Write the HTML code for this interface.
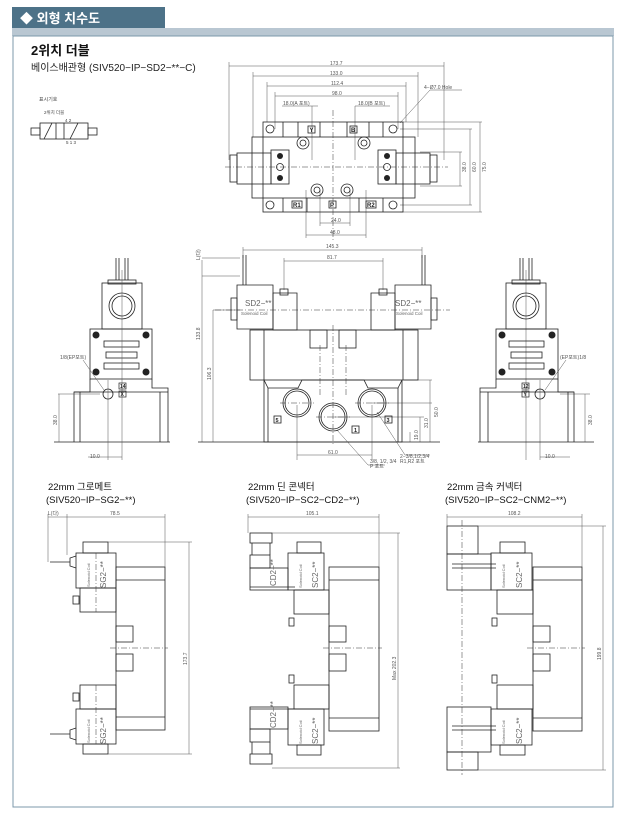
<!DOCTYPE html>
<html><head><meta charset="utf-8"><style>
html,body{margin:0;padding:0;background:#fff;}
svg{display:block;}
text{font-family:"Liberation Sans","Noto Sans CJK KR",sans-serif;}
.l{fill:none;stroke:#222;stroke-width:0.8}
.t{fill:none;stroke:#555;stroke-width:0.5}
.c{fill:none;stroke:#333;stroke-width:0.5;stroke-dasharray:6 2 1 2}
.d{font-size:5px;fill:#555}
</style></head><body>
<svg width="621" height="817" viewBox="0 0 621 817" xmlns="http://www.w3.org/2000/svg">
<rect width="621" height="817" fill="#fff"/>
<!-- header -->
<rect x="12" y="7" width="153" height="21" fill="#4d7288"/>
<text x="20" y="23" font-size="13" fill="#fff" font-weight="bold">◆ 외형 치수도</text>
<rect x="12" y="28" width="602" height="8" fill="#b9c7d2"/>
<rect x="13" y="36" width="600" height="771" fill="none" stroke="#7c98ab" stroke-width="1"/>
<text x="31" y="55" font-size="13" font-weight="bold" fill="#111">2위치 더블</text>
<text x="31" y="71" font-size="10" fill="#222">베이스배관형 (SIV520−IP−SD2−**−C)</text>
<!-- symbol -->
<text x="39" y="101" font-size="5" fill="#444">표시기호</text>
<text x="44" y="114" font-size="4.5" fill="#444">2위치 더블</text>
<text x="65" y="122" font-size="4.5" fill="#444">4   2</text>
<text x="66" y="144" font-size="4.5" fill="#444">5  1 3</text>
<g class="l"><rect x="40" y="123" width="48" height="16"/><line x1="64" y1="123" x2="64" y2="139"/>
<rect x="31" y="128" width="9" height="7"/><rect x="88" y="128" width="9" height="7"/>
<line x1="44" y1="139" x2="52" y2="123"/><line x1="70" y1="139" x2="78" y2="123"/><line x1="56" y1="123" x2="56" y2="139"/></g>

<!-- TOP VIEW -->
<g class="t">
<line x1="229" y1="66" x2="444" y2="66"/><line x1="229" y1="62" x2="229" y2="160"/><line x1="444" y1="62" x2="444" y2="160"/>
<line x1="253" y1="76" x2="418" y2="76"/><line x1="253" y1="72" x2="253" y2="137"/><line x1="418" y1="72" x2="418" y2="137"/>
<line x1="267" y1="86" x2="406" y2="86"/><line x1="267" y1="82" x2="267" y2="122"/><line x1="406" y1="82" x2="406" y2="122"/>
<line x1="275" y1="96" x2="398" y2="96"/><line x1="275" y1="92" x2="275" y2="129"/><line x1="398" y1="92" x2="398" y2="129"/>
<line x1="282" y1="106" x2="318" y2="106"/><line x1="355" y1="106" x2="390" y2="106"/>
<line x1="312" y1="106" x2="312" y2="160"/><line x1="355" y1="106" x2="355" y2="160"/>
<line x1="400" y1="123" x2="430" y2="90"/><line x1="430" y1="90" x2="462" y2="90"/>
<line x1="400" y1="122" x2="482" y2="122"/><line x1="400" y1="129" x2="472" y2="129"/><line x1="400" y1="205" x2="472" y2="205"/><line x1="400" y1="212" x2="482" y2="212"/>
<line x1="420" y1="152" x2="462" y2="152"/><line x1="420" y1="186" x2="462" y2="186"/>
<line x1="460" y1="152" x2="460" y2="186"/><line x1="470" y1="129" x2="470" y2="205"/><line x1="480" y1="122" x2="480" y2="212"/>
<line x1="320" y1="190" x2="320" y2="226"/><line x1="350" y1="190" x2="350" y2="226"/><line x1="320" y1="223" x2="350" y2="223"/>
<line x1="306" y1="190" x2="306" y2="238"/><line x1="366" y1="190" x2="366" y2="238"/><line x1="306" y1="235" x2="366" y2="235"/>
</g>
<g class="d"><text x="330" y="65">173.7</text><text x="330" y="75">133.0</text><text x="331" y="85">112.4</text><text x="332" y="95">98.0</text>
<text x="283" y="105">18.0(A 포트)</text><text x="358" y="105">18.0(B 포트)</text><text x="424" y="89">4−Ø7.0 Hole</text>
<text x="331" y="222">24.0</text><text x="330" y="234">48.0</text></g>
<g class="d" transform="translate(466,172) rotate(-90)"><text>38.0</text></g>
<g class="d" transform="translate(476,172) rotate(-90)"><text>60.0</text></g>
<g class="d" transform="translate(486,172) rotate(-90)"><text>75.0</text></g>
<g class="l">
<rect x="263" y="122" width="140" height="90"/>
<rect x="252" y="137" width="163" height="61"/>
<line x1="283" y1="122" x2="283" y2="137"/><line x1="383" y1="122" x2="383" y2="137"/><line x1="283" y1="198" x2="283" y2="212"/><line x1="383" y1="198" x2="383" y2="212"/>
<line x1="298" y1="122" x2="298" y2="137"/><line x1="320" y1="122" x2="320" y2="137"/><line x1="347" y1="122" x2="347" y2="137"/><line x1="369" y1="122" x2="369" y2="137"/>
<line x1="307" y1="198" x2="307" y2="212"/><line x1="359" y1="198" x2="359" y2="212"/>
<circle cx="270" cy="129" r="4"/><circle cx="393" cy="129" r="4"/><circle cx="270" cy="205" r="4"/><circle cx="393" cy="205" r="4"/>
<circle cx="303" cy="143" r="6"/><circle cx="303" cy="143" r="3"/><circle cx="364" cy="143" r="6"/><circle cx="364" cy="143" r="3"/>
<circle cx="317" cy="190" r="6"/><circle cx="317" cy="190" r="3"/><circle cx="347" cy="190" r="6"/><circle cx="347" cy="190" r="3"/>
<rect x="271" y="150" width="18" height="34"/><rect x="378" y="150" width="18" height="34"/>
<rect x="237" y="153" width="34" height="31"/><rect x="396" y="153" width="34" height="31"/>
<rect x="230" y="155" width="7" height="27"/><rect x="430" y="155" width="7" height="27"/>
<circle cx="280" cy="167" r="3.5"/><circle cx="387" cy="167" r="3.5"/>
</g>
<g fill="#222"><circle cx="280" cy="156" r="3"/><circle cx="280" cy="178" r="3"/><circle cx="387" cy="156" r="3"/><circle cx="387" cy="178" r="3"/></g>
<g font-size="6" font-weight="bold" fill="#222">
<rect x="308" y="126" width="7" height="7" fill="none" stroke="#222" stroke-width="0.8"/><text x="309.5" y="132">Y</text>
<rect x="350" y="126" width="7" height="7" fill="none" stroke="#222" stroke-width="0.8"/><text x="351" y="132">B</text>
<rect x="292" y="201" width="10" height="7" fill="none" stroke="#222" stroke-width="0.8"/><text x="293" y="207">R1</text>
<rect x="329" y="201" width="7" height="7" fill="none" stroke="#222" stroke-width="0.8"/><text x="330" y="207">P</text>
<rect x="366" y="201" width="10" height="7" fill="none" stroke="#222" stroke-width="0.8"/><text x="367" y="207">R2</text></g>
<line class="c" x1="225" y1="167" x2="448" y2="167"/><line class="c" x1="333" y1="110" x2="333" y2="240"/>

<!-- FRONT VIEW -->
<g class="t">
<line x1="243" y1="250" x2="422" y2="250"/><line x1="243" y1="247" x2="243" y2="258"/><line x1="422" y1="247" x2="422" y2="258"/>
<line x1="284" y1="261" x2="383" y2="261"/><line x1="284" y1="258" x2="284" y2="290"/><line x1="383" y1="258" x2="383" y2="290"/>
<line x1="202" y1="258" x2="240" y2="258"/><line x1="202" y1="276" x2="240" y2="276"/>
<line x1="202" y1="260" x2="202" y2="442"/><line x1="213" y1="310" x2="213" y2="442"/>
<line x1="213" y1="310" x2="240" y2="310"/>
<line x1="297" y1="405" x2="297" y2="460"/><line x1="372" y1="405" x2="372" y2="460"/><line x1="297" y1="455" x2="372" y2="455"/>
<line x1="372" y1="403" x2="432" y2="403"/><line x1="333" y1="417" x2="424" y2="417"/><line x1="404" y1="380" x2="432" y2="380"/>
<line x1="420" y1="417" x2="420" y2="442"/><line x1="410" y1="432" x2="410" y2="442"/><line x1="430" y1="380" x2="430" y2="442"/>
<line x1="337" y1="430" x2="368" y2="465"/><line x1="368" y1="465" x2="385" y2="465"/>
<line x1="377" y1="412" x2="405" y2="455"/><line x1="405" y1="455" x2="430" y2="455"/>
</g>
<g class="d"><text x="326" y="248">145.3</text><text x="327" y="259">81.7</text><text x="328" y="454">61.0</text>
<text x="400" y="458">2−3/8,1/2,3/4</text><text x="400" y="463">R1,R2 포트</text><text x="370" y="463">3/8, 1/2, 3/4</text><text x="370" y="468">P 포트</text></g>
<g class="d" transform="translate(200,340) rotate(-90)"><text>133.8</text></g>
<g class="d" transform="translate(211,380) rotate(-90)"><text>106.3</text></g>
<g class="d" transform="translate(200,260) rotate(-90)"><text>L(다)</text></g>
<g class="d" transform="translate(418,440) rotate(-90)"><text>19.0</text></g>
<g class="d" transform="translate(428,428) rotate(-90)"><text>31.0</text></g>
<g class="d" transform="translate(438,417) rotate(-90)"><text>50.0</text></g>
<g class="l">
<path d="M237 285 h36 v44 h-36 z"/><path d="M273 293 h24 v37 h-24 z"/>
<path d="M395 285 h36 v44 h-36 z"/><path d="M371 293 h24 v37 h-24 z"/>
<rect x="231" y="298" width="6" height="22"/><rect x="431" y="298" width="6" height="22"/>
<rect x="250" y="330" width="168" height="50"/><line x1="264" y1="330" x2="264" y2="380"/><line x1="403" y1="330" x2="403" y2="380"/>
<rect x="310" y="330" width="17" height="18"/><rect x="339" y="330" width="17" height="18"/>
<path d="M264 380 v62 h138 v-62"/><path d="M264 380 l4 8 h30 l4 -8 h62 l4 8 h30 l4 -8"/>
<line x1="268" y1="388" x2="268" y2="442"/><line x1="398" y1="388" x2="398" y2="442"/>
<circle cx="297" cy="403" r="14"/><circle cx="297" cy="403" r="12"/>
<circle cx="372" cy="403" r="14"/><circle cx="372" cy="403" r="12"/>
<circle cx="333" cy="417" r="14"/><circle cx="333" cy="417" r="12"/>
<line x1="243" y1="255" x2="243" y2="285"/><line x1="246" y1="255" x2="246" y2="285"/>
<line x1="422" y1="255" x2="422" y2="285"/><line x1="425" y1="255" x2="425" y2="285"/>
<rect x="280" y="289" width="8" height="6"/><rect x="379" y="289" width="8" height="6"/>
<line x1="198" y1="442" x2="440" y2="442"/>
</g>
<g font-size="5.5" font-weight="bold" fill="#222">
<rect x="274" y="416" width="7" height="7" fill="none" stroke="#222" stroke-width="0.8"/><text x="275.5" y="422">5</text>
<rect x="352" y="426" width="7" height="7" fill="none" stroke="#222" stroke-width="0.8"/><text x="354" y="432">1</text>
<rect x="385" y="416" width="7" height="7" fill="none" stroke="#222" stroke-width="0.8"/><text x="386.5" y="422">3</text></g>
<text x="245" y="306" font-size="8" fill="#666">SD2−**</text><text x="241" y="315" font-size="4.5" fill="#666">Solenoid Coil</text>
<text x="395" y="306" font-size="8" fill="#666">SD2−**</text><text x="396" y="315" font-size="4.5" fill="#666">Solenoid Coil</text>
<line class="c" x1="215" y1="310" x2="450" y2="310"/><line class="c" x1="333" y1="325" x2="333" y2="445"/>
<line class="c" x1="320" y1="345" x2="320" y2="395"/><line class="c" x1="346" y1="345" x2="346" y2="395"/>
<line class="c" x1="280" y1="403" x2="314" y2="403"/><line class="c" x1="355" y1="403" x2="389" y2="403"/><line class="c" x1="316" y1="417" x2="350" y2="417"/>

<!-- SIDE VIEWS -->
<g id="side">
<g class="l">
<rect x="102" y="283" width="40" height="46"/><circle cx="122" cy="306" r="13"/><circle cx="122" cy="306" r="10"/>
<rect x="108" y="280" width="28" height="4"/>
<line x1="116" y1="258" x2="116" y2="280"/><line x1="119" y1="258" x2="119" y2="280"/><line x1="125" y1="258" x2="125" y2="280"/><line x1="128" y1="258" x2="128" y2="280"/>
<rect x="90" y="329" width="62" height="50"/>
<rect x="104" y="341" width="35" height="6"/><rect x="106" y="352" width="31" height="6"/><rect x="104" y="363" width="35" height="6"/>
<path d="M74 442 V392 H90 V379 M152 379 V388 H168 V442"/><line x1="74" y1="392" x2="168" y2="392"/>
<line x1="80" y1="392" x2="80" y2="442"/><line x1="160" y1="392" x2="160" y2="442"/>
<circle cx="108" cy="394" r="5"/><line x1="54" y1="442" x2="170" y2="442"/>
</g>
<g fill="#222"><circle cx="96" cy="335" r="3.5"/><circle cx="146" cy="335" r="3.5"/><circle cx="96" cy="372" r="3.5"/><circle cx="146" cy="372" r="3.5"/></g>
</g>
<g class="t"><line x1="58" y1="394" x2="100" y2="394"/><line x1="59" y1="394" x2="59" y2="442"/><line x1="108" y1="380" x2="108" y2="460"/><line x1="122" y1="270" x2="122" y2="460"/>
<line x1="88" y1="457" x2="122" y2="457"/><line x1="83" y1="360" x2="104" y2="390"/>
<line x1="560" y1="394" x2="590" y2="394"/><line x1="585" y1="394" x2="585" y2="442"/><line x1="540" y1="380" x2="540" y2="460"/><line x1="526" y1="270" x2="526" y2="460"/><line x1="540" y1="457" x2="570" y2="457"/><line x1="566" y1="360" x2="545" y2="390"/></g>
<text x="60" y="359" class="d">1/8(EP포트)</text><text x="560" y="359" class="d">(EP포트)1/8</text>
<text x="90" y="458" class="d">10.0</text><text x="545" y="458" class="d">10.0</text>
<g class="d" transform="translate(57,425) rotate(-90)"><text>38.0</text></g>
<g class="d" transform="translate(592,425) rotate(-90)"><text>38.0</text></g>
<g font-size="5" font-weight="bold" fill="#222"><rect x="119" y="383" width="7" height="6" fill="none" stroke="#222" stroke-width="0.7"/><text x="120" y="388">14</text>
<rect x="119" y="391" width="7" height="6" fill="none" stroke="#222" stroke-width="0.7"/><text x="120.5" y="396">X</text>
<rect x="522" y="383" width="7" height="6" fill="none" stroke="#222" stroke-width="0.7"/><text x="523" y="388">12</text>
<rect x="522" y="391" width="7" height="6" fill="none" stroke="#222" stroke-width="0.7"/><text x="523.5" y="396">Y</text></g>
<g class="l" transform="translate(648,0) scale(-1,1)">
<rect x="102" y="283" width="40" height="46"/><circle cx="122" cy="306" r="13"/><circle cx="122" cy="306" r="10"/>
<rect x="108" y="280" width="28" height="4"/>
<line x1="116" y1="258" x2="116" y2="280"/><line x1="119" y1="258" x2="119" y2="280"/><line x1="125" y1="258" x2="125" y2="280"/><line x1="128" y1="258" x2="128" y2="280"/>
<rect x="90" y="329" width="62" height="50"/>
<rect x="104" y="341" width="35" height="6"/><rect x="106" y="352" width="31" height="6"/><rect x="104" y="363" width="35" height="6"/>
<path d="M74 442 V392 H90 V379 M152 379 V388 H168 V442"/><line x1="74" y1="392" x2="168" y2="392"/>
<line x1="80" y1="392" x2="80" y2="442"/><line x1="160" y1="392" x2="160" y2="442"/>
<circle cx="108" cy="394" r="5"/><line x1="54" y1="442" x2="170" y2="442"/>
</g>
<g fill="#222"><circle cx="552" cy="335" r="3.5"/><circle cx="502" cy="335" r="3.5"/><circle cx="552" cy="372" r="3.5"/><circle cx="502" cy="372" r="3.5"/></g>

<!-- BOTTOM LABELS -->
<g font-size="9.5" fill="#111">
<text x="48" y="490">22mm 그로메트</text><text x="46" y="503">(SIV520−IP−SG2−**)</text>
<text x="248" y="490">22mm 딘 콘넥터</text><text x="246" y="503">(SIV520−IP−SC2−CD2−**)</text>
<text x="447" y="490">22mm 금속 커넥터</text><text x="445" y="503">(SIV520−IP−SC2−CNM2−**)</text></g>

<!-- bottom drawing 1 -->
<g class="l">
<rect x="116" y="567" width="49" height="163"/><line x1="116" y1="580" x2="165" y2="580"/><line x1="116" y1="717" x2="165" y2="717"/>
<rect x="116" y="626" width="17" height="16"/><rect x="116" y="654" width="17" height="17"/>
<rect x="76" y="553" width="40" height="35"/><rect x="80" y="588" width="36" height="24"/>
<rect x="83" y="542" width="25" height="11"/>
<rect x="80" y="685" width="36" height="24"/><rect x="76" y="709" width="40" height="35"/><rect x="83" y="744" width="25" height="10"/>
<path d="M76 556 l-6 2 v8 l6 2"/><line x1="50" y1="562" x2="70" y2="562"/>
<path d="M76 728 l-6 2 v8 l6 2"/><line x1="50" y1="734" x2="70" y2="734"/>
<rect x="73" y="596" width="6" height="8"/><rect x="73" y="693" width="6" height="8"/>
</g>
<g class="t"><line x1="48" y1="517" x2="165" y2="517"/><line x1="48" y1="514" x2="48" y2="562"/><line x1="67" y1="514" x2="67" y2="555"/><line x1="165" y1="514" x2="165" y2="567"/>
<line x1="108" y1="542" x2="192" y2="542"/><line x1="108" y1="754" x2="192" y2="754"/><line x1="189" y1="542" x2="189" y2="754"/></g>
<text x="48" y="515" class="d">L(다)</text><text x="110" y="515" class="d">78.5</text>
<g class="d" transform="translate(187,665) rotate(-90)"><text>173.7</text></g>
<g font-size="4" fill="#666" transform="translate(90,587) rotate(-90)"><text>Solenoid Coil</text></g>
<g font-size="8" fill="#666" transform="translate(106,588) rotate(-90)"><text>SG2−**</text></g>
<g font-size="4" fill="#666" transform="translate(90,743) rotate(-90)"><text>Solenoid Coil</text></g>
<g font-size="8" fill="#666" transform="translate(106,744) rotate(-90)"><text>SG2−**</text></g>
<line class="c" x1="110" y1="648" x2="168" y2="648"/><line class="c" x1="96" y1="553" x2="96" y2="612"/><line class="c" x1="96" y1="685" x2="96" y2="744"/>

<!-- bottom drawing 2 -->
<g class="l">
<rect x="329" y="567" width="50" height="164"/><line x1="329" y1="580" x2="379" y2="580"/><line x1="329" y1="718" x2="379" y2="718"/>
<rect x="329" y="626" width="17" height="16"/><rect x="329" y="654" width="17" height="17"/>
<rect x="288" y="553" width="36" height="37"/><rect x="294" y="590" width="35" height="24"/><rect x="297" y="542" width="24" height="11"/>
<rect x="294" y="685" width="35" height="24"/><rect x="288" y="709" width="36" height="36"/><rect x="297" y="745" width="24" height="10"/>
<rect x="250" y="568" width="38" height="22"/><rect x="250" y="555" width="20" height="13"/><rect x="250" y="533" width="22" height="10"/><line x1="252" y1="543" x2="252" y2="555"/><line x1="270" y1="543" x2="270" y2="555"/>
<rect x="250" y="707" width="38" height="22"/><rect x="250" y="729" width="20" height="13"/><rect x="250" y="754" width="22" height="10"/><line x1="252" y1="742" x2="252" y2="754"/><line x1="270" y1="742" x2="270" y2="754"/>
<line x1="250" y1="587" x2="295" y2="587"/><line x1="250" y1="709" x2="295" y2="709"/>
<rect x="289" y="618" width="5" height="8"/><rect x="289" y="675" width="5" height="8"/>
</g>
<g class="t"><line x1="248" y1="517" x2="379" y2="517"/><line x1="248" y1="514" x2="248" y2="533"/><line x1="379" y1="514" x2="379" y2="567"/>
<line x1="272" y1="533" x2="400" y2="533"/><line x1="272" y1="768" x2="400" y2="768"/><line x1="398" y1="533" x2="398" y2="768"/></g>
<text x="306" y="515" class="d">105.1</text>
<g class="d" transform="translate(396,680) rotate(-90)"><text>Max 202.3</text></g>
<g font-size="4" fill="#666" transform="translate(302,588) rotate(-90)"><text>Solenoid Coil</text></g>
<g font-size="8" fill="#666" transform="translate(318,588) rotate(-90)"><text>SC2−**</text></g>
<g font-size="4" fill="#666" transform="translate(302,744) rotate(-90)"><text>Solenoid Coil</text></g>
<g font-size="8" fill="#666" transform="translate(318,744) rotate(-90)"><text>SC2−**</text></g>
<g font-size="8" fill="#666" transform="translate(276,586) rotate(-90)"><text>CD2−**</text></g>
<g font-size="8" fill="#666" transform="translate(276,728) rotate(-90)"><text>CD2−**</text></g>
<line class="c" x1="323" y1="648" x2="382" y2="648"/>

<!-- bottom drawing 3 -->
<g class="l">
<rect x="533" y="567" width="49" height="164"/><line x1="533" y1="580" x2="582" y2="580"/><line x1="533" y1="718" x2="582" y2="718"/>
<rect x="533" y="626" width="17" height="16"/><rect x="533" y="654" width="17" height="17"/>
<rect x="491" y="553" width="41" height="37"/><rect x="497" y="590" width="36" height="24"/><rect x="500" y="542" width="25" height="11"/>
<rect x="497" y="685" width="36" height="24"/><rect x="491" y="709" width="41" height="36"/><rect x="500" y="745" width="25" height="10"/>
<rect x="447" y="526" width="31" height="28"/><rect x="447" y="554" width="44" height="36"/>
<rect x="447" y="752" width="31" height="18"/><rect x="447" y="707" width="44" height="45"/>
<line x1="452" y1="564" x2="496" y2="564"/><line x1="452" y1="568" x2="496" y2="568"/>
<line x1="452" y1="726" x2="496" y2="726"/><line x1="452" y1="730" x2="496" y2="730"/>
<rect x="492" y="618" width="5" height="8"/><rect x="492" y="675" width="5" height="8"/>
</g>
<g class="t"><line x1="447" y1="517" x2="582" y2="517"/><line x1="447" y1="514" x2="447" y2="526"/><line x1="582" y1="514" x2="582" y2="567"/>
<line x1="478" y1="526" x2="606" y2="526"/><line x1="478" y1="770" x2="606" y2="770"/><line x1="603" y1="526" x2="603" y2="770"/></g>
<text x="508" y="515" class="d">108.2</text>
<g class="d" transform="translate(601,660) rotate(-90)"><text>199.8</text></g>
<g font-size="4" fill="#666" transform="translate(505,588) rotate(-90)"><text>Solenoid Coil</text></g>
<g font-size="8" fill="#666" transform="translate(522,588) rotate(-90)"><text>SC2−**</text></g>
<g font-size="4" fill="#666" transform="translate(505,744) rotate(-90)"><text>Solenoid Coil</text></g>
<g font-size="8" fill="#666" transform="translate(522,744) rotate(-90)"><text>SC2−**</text></g>
<line class="c" x1="527" y1="648" x2="585" y2="648"/><line class="c" x1="462" y1="520" x2="462" y2="775"/>
</svg>
</body></html>
